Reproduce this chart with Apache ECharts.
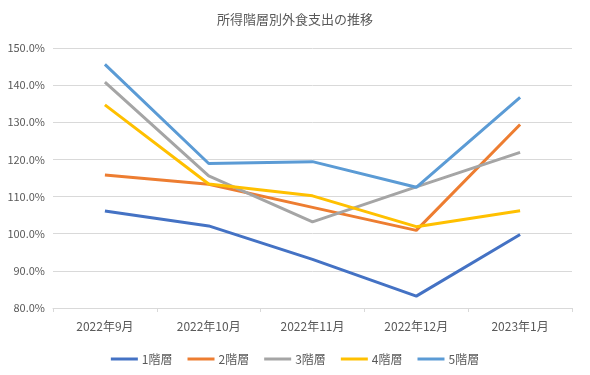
<!DOCTYPE html>
<html><head><meta charset="utf-8">
<script src="https://cdn.jsdelivr.net/npm/echarts@6/dist/echarts.min.js"></script>
<style>html,body{margin:0;padding:0;background:#fff}#c{width:590px;height:375px}</style>
</head><body><div id="c"></div>
<script>
const categories = ['2022年9月','2022年10月','2022年11月','2022年12月','2023年1月'];
const seriesNames = ['1階層','2階層','3階層','4階層','5階層'];
const tier1 = [106.1, 102.1, 93.1, 83.2, 99.8];
const tier2 = [115.8, 113.3, 107.1, 100.9, 129.4];
const tier3 = [140.8, 115.6, 103.2, 112.6, 121.9];
const tier4 = [134.7, 113.4, 110.2, 101.9, 106.2];
const tier5 = [145.6, 118.9, 119.4, 112.5, 136.7];
const colors = ['#4472C4','#ED7D31','#A5A5A5','#FFC000','#5B9BD5'];
const allData = [tier1, tier2, tier3, tier4, tier5];
const font = '"Noto Sans CJK JP", sans-serif';
const chart = echarts.init(document.getElementById('c'), null, {renderer:'canvas'});
chart.setOption({
  animation: false,
  color: colors,
  title: {text: '所得階層別外食支出の推移', left: 'center', top: 8,
    textStyle: {fontFamily: font, fontSize: 13, fontWeight: 'normal', color: '#595959'}},
  grid: {left: 53, right: 18, top: 48, bottom: 67},
  legend: {bottom: 5, left: 'center', icon: 'rect', itemWidth: 27, itemHeight: 3, itemGap: 15,
    textStyle: {fontFamily: font, fontSize: 12, color: '#595959', padding: [0,0,0,-1]},
    data: seriesNames},
  xAxis: {type: 'category', data: categories, boundaryGap: true,
    axisLine: {lineStyle: {color: '#d9d9d9'}},
    axisTick: {show: true, alignWithLabel: false, length: 4, lineStyle: {color: '#d9d9d9'}},
    axisLabel: {fontFamily: font, fontSize: 12, color: '#595959', margin: 12}},
  yAxis: {type: 'value', min: 80, max: 150, interval: 10,
    axisLine: {show: false}, axisTick: {show: false},
    splitLine: {lineStyle: {color: '#d9d9d9'}},
    axisLabel: {fontFamily: font, fontSize: 11, color: '#595959', margin: 8,
      formatter: v => v.toFixed(1) + '%'}},
  series: seriesNames.map((n, i) => ({
    name: n, type: 'line', data: allData[i], symbol: 'none',
    lineStyle: {width: 3, color: colors[i]}, itemStyle: {color: colors[i]}
  }))
});
</script></body></html>
